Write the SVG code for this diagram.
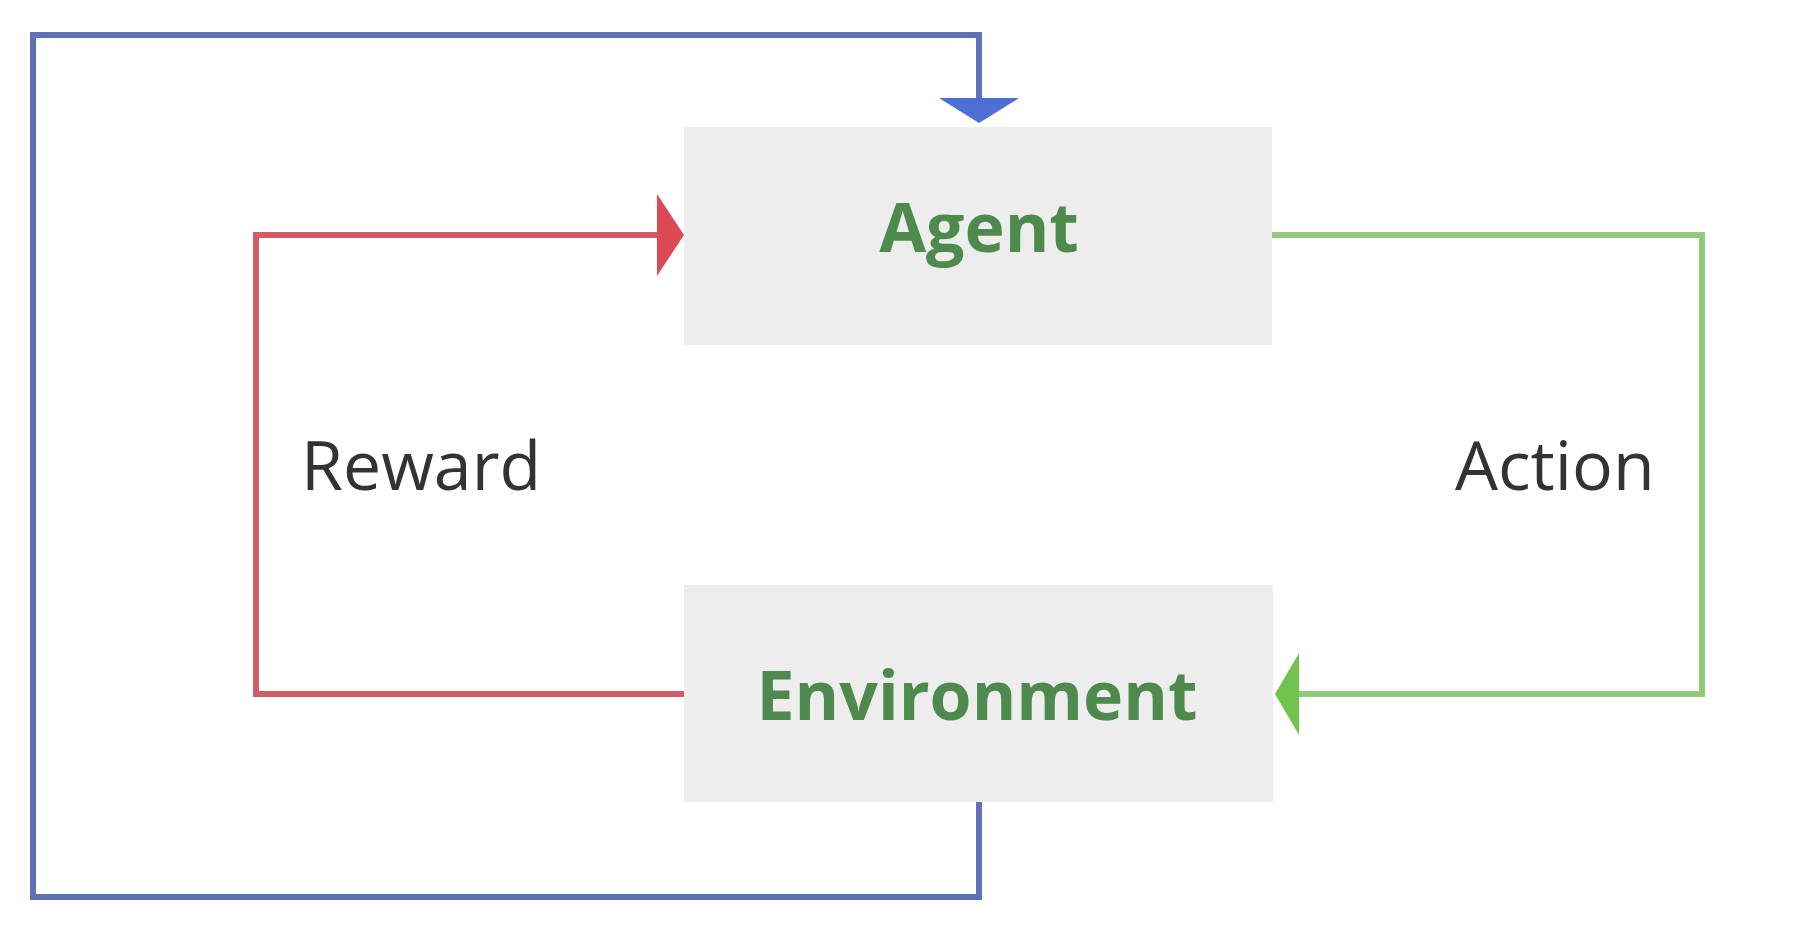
<svg xmlns="http://www.w3.org/2000/svg" width="1797" height="934" viewBox="0 0 1797 934">
  <style>
    .box { fill: #ededed; }
    .title { font-family: "Open Sans", "Liberation Sans", sans-serif; font-weight: 700; font-size: 68px; fill: #4e8a4e; text-anchor: middle; }
    .label { font-family: "Open Sans", "Liberation Sans", sans-serif; font-weight: 500; font-size: 68px; fill: #333333; }
    .line { fill: none; stroke-width: 6; stroke-linejoin: miter; }
  </style>
  <defs>
    <marker id="arrowBlue" viewBox="0 0 25 80" refX="0" refY="40" markerWidth="25" markerHeight="80" markerUnits="userSpaceOnUse" orient="auto">
      <path d="M0,0 L25,40 L0,80 Z" fill="#4d6fd6"/>
    </marker>
    <marker id="arrowRed" viewBox="0 0 27 82" refX="0" refY="41" markerWidth="27" markerHeight="82" markerUnits="userSpaceOnUse" orient="auto">
      <path d="M0,0 L27,41 L0,82 Z" fill="#dc4a55"/>
    </marker>
    <marker id="arrowGreen" viewBox="0 0 24 82" refX="0" refY="41" markerWidth="24" markerHeight="82" markerUnits="userSpaceOnUse" orient="auto">
      <path d="M0,0 L24,41 L0,82 Z" fill="#72c24e"/>
    </marker>
  </defs>
  <rect width="1797" height="934" fill="#ffffff"/>
  <g id="connectors">
    <path id="observation" class="line" stroke="#5d70b8" d="M979,802 V897 H33 V35 H979 V98" marker-end="url(#arrowBlue)"/>
    <path id="reward" class="line" stroke="#d35b63" d="M684,694 H256 V235 H657" marker-end="url(#arrowRed)"/>
    <path id="action" class="line" stroke="#93c97a" d="M1272,235 H1702 V694 H1299" marker-end="url(#arrowGreen)"/>
  </g>
  <g id="agent">
    <rect class="box" x="684" y="127" width="588" height="218"/>
    <text class="title" x="979" y="252">Agent</text>
  </g>
  <g id="environment">
    <rect class="box" x="684" y="585" width="589" height="217"/>
    <text class="title" x="977" y="720">Environment</text>
  </g>
  <g id="reward-label">
    <text class="label" x="301" y="490">Reward</text>
  </g>
  <g id="action-label">
    <text class="label" x="1455" y="490">Action</text>
  </g>
</svg>
